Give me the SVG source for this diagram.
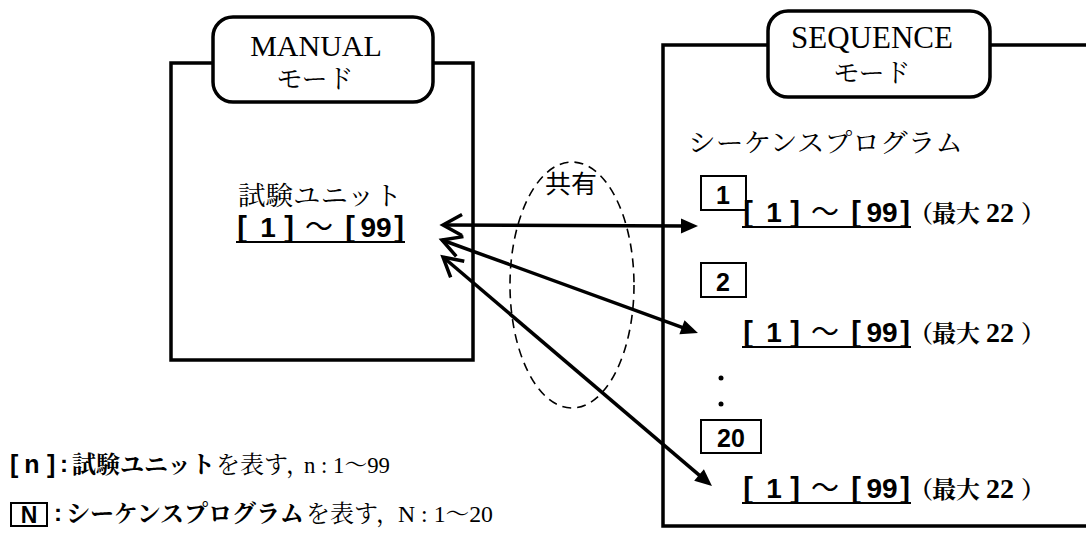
<svg xmlns="http://www.w3.org/2000/svg" xmlns:xlink="http://www.w3.org/1999/xlink" width="1086" height="548" viewBox="0 0 1086 548">
<style>
.box{fill:#fff;stroke:#000;stroke-width:3.5}
.tab{fill:#fff;stroke:#000;stroke-width:3.5}
.nbox{fill:#fff;stroke:#000;stroke-width:2}
.serif{font-family:'Liberation Serif','Noto Serif CJK JP','Noto Sans CJK JP',serif;fill:#000}
.sans{font-family:'Liberation Sans','Noto Sans CJK JP',sans-serif;fill:#000}
.cjk{font-family:'Noto Sans CJK JP',sans-serif;fill:#000}
.bold{font-weight:bold}
.br{font-family:'Liberation Sans',sans-serif;font-weight:bold;font-size:29px;text-anchor:middle}
.dg{font-family:'Liberation Sans',sans-serif;font-weight:bold;font-size:28px;text-anchor:middle}
.wv{font-family:'Noto Sans CJK JP',sans-serif;font-size:28px;text-anchor:middle}
.mx{font-family:'Noto Serif CJK JP','Noto Sans CJK JP',sans-serif;font-weight:bold;font-size:24px}
.ul{stroke:#000;stroke-width:2}
.conn{stroke:#000;stroke-width:3.5;fill:none}
</style>
<defs>
<marker id="head" markerUnits="userSpaceOnUse" markerWidth="40" markerHeight="40" viewBox="-20 -20 40 40" refX="0" refY="0" orient="auto" overflow="visible">
<path d="M-6,-7.5 L11,0 L-6,7.5 Z" fill="#000"/>
</marker>
<marker id="open" markerUnits="userSpaceOnUse" markerWidth="50" markerHeight="50" viewBox="-25 -25 50 50" refX="0" refY="0" orient="auto-start-reverse" overflow="visible">
<path d="M-19,-10.5 L0,0 L-19,10.5" fill="none" stroke="#000" stroke-width="3.5" stroke-linejoin="miter"/>
</marker>
<g id="range">
<text class="br" x="6" y="0">[</text>
<text class="dg" x="32" y="0">1</text>
<text class="br" x="53" y="0">]</text>
<text class="wv" x="83" y="0">〜</text>
<text class="br" x="114" y="0">[</text>
<text class="dg" x="140" y="0">99</text>
<text class="br" x="163" y="0">]</text>
<line class="ul" x1="0" y1="5" x2="169" y2="5"/>
</g>
<g id="max22">
<text class="mx" x="3" y="0">（</text>
<text class="mx" x="26" y="0">最大</text>
<text class="serif bold" x="80" y="0" font-size="28">22</text>
<text class="mx" x="115" y="0">）</text>
</g>
</defs>

<g id="manual-mode">
<rect class="box" x="171" y="63" width="302" height="297"/>
<rect class="tab" x="213" y="17" width="220" height="85" rx="20" ry="20"/>
<text class="serif" x="316" y="56" font-size="30" text-anchor="middle">MANUAL</text>
<text class="serif" x="315" y="88" font-size="26" text-anchor="middle">モード</text>
<text class="serif" x="238" y="205" font-size="26" textLength="164" lengthAdjust="spacingAndGlyphs">試験ユニット</text>
<use xlink:href="#range" href="#range" x="236" y="237"/>
</g>

<g id="sequence-mode">
<rect class="box" x="663" y="45" width="440" height="481"/>
<rect class="tab" x="768" y="11" width="222" height="86" rx="20" ry="20"/>
<text class="serif" x="872" y="48" font-size="31" text-anchor="middle">SEQUENCE</text>
<text class="serif" x="872" y="82" font-size="26" text-anchor="middle">モード</text>
<text class="serif" x="688" y="152" font-size="26" textLength="275" lengthAdjust="spacingAndGlyphs">シーケンスプログラム</text>
</g>

<g id="program-1">
<rect class="nbox" x="701" y="176" width="45" height="34"/>
<text class="sans bold" x="723" y="204" font-size="25" text-anchor="middle">1</text>
<use xlink:href="#range" href="#range" x="742" y="222"/>
<use xlink:href="#max22" href="#max22" x="906" y="222"/>
</g>

<g id="program-2">
<rect class="nbox" x="701" y="263" width="45" height="34"/>
<text class="sans bold" x="723" y="291" font-size="25" text-anchor="middle">2</text>
<use xlink:href="#range" href="#range" x="742" y="342"/>
<use xlink:href="#max22" href="#max22" x="906" y="342"/>
</g>

<g id="ellipsis">
<circle cx="721" cy="378" r="2.5" fill="#000"/>
<circle cx="721" cy="404" r="2.5" fill="#000"/>
</g>

<g id="program-20">
<rect class="nbox" x="701" y="420" width="60" height="33"/>
<text class="sans bold" x="731" y="447" font-size="25" text-anchor="middle">20</text>
<use xlink:href="#range" href="#range" x="742" y="498"/>
<use xlink:href="#max22" href="#max22" x="906" y="498"/>
</g>

<g id="shared">
<ellipse cx="572" cy="285" rx="62" ry="123" fill="none" stroke="#000" stroke-width="1.6" stroke-dasharray="9,6"/>
<text class="cjk" x="545" y="193" font-size="25" textLength="52" lengthAdjust="spacingAndGlyphs">共有</text>
</g>

<g id="connectors">
<line class="conn" x1="443" y1="225" x2="687" y2="226" marker-start="url(#open)" marker-end="url(#head)"/>
<line class="conn" x1="442" y1="240" x2="687.6" y2="329.3" marker-start="url(#open)" marker-end="url(#head)"/>
<line class="conn" x1="443" y1="257" x2="703.6" y2="478.9" marker-start="url(#open)" marker-end="url(#head)"/>
</g>

<g id="legend">
<text class="sans bold" x="10" y="473" font-size="25">[</text>
<text class="sans bold" x="32" y="473" font-size="25" text-anchor="middle">n</text>
<text class="sans bold" x="47" y="473" font-size="25">]</text>
<text class="sans bold" x="60" y="472" font-size="24">:</text>
<text class="serif bold" x="72" y="473" font-size="24">試験ユニット</text>
<text class="serif" x="216" y="473" font-size="24">を表す，</text>
<text class="serif" x="304" y="473" font-size="24" textLength="86" lengthAdjust="spacingAndGlyphs">n : 1〜99</text>
<rect class="nbox" x="11" y="503" width="36" height="23"/>
<text class="sans bold" x="29" y="523" font-size="23" text-anchor="middle">N</text>
<text class="sans bold" x="54" y="521" font-size="24">:</text>
<text class="serif bold" x="66" y="522" font-size="24">シーケンスプログラム</text>
<text class="serif" x="306" y="522" font-size="24">を表す，</text>
<text class="serif" x="398" y="522" font-size="24" textLength="95" lengthAdjust="spacingAndGlyphs">N : 1〜20</text>
</g>
</svg>
